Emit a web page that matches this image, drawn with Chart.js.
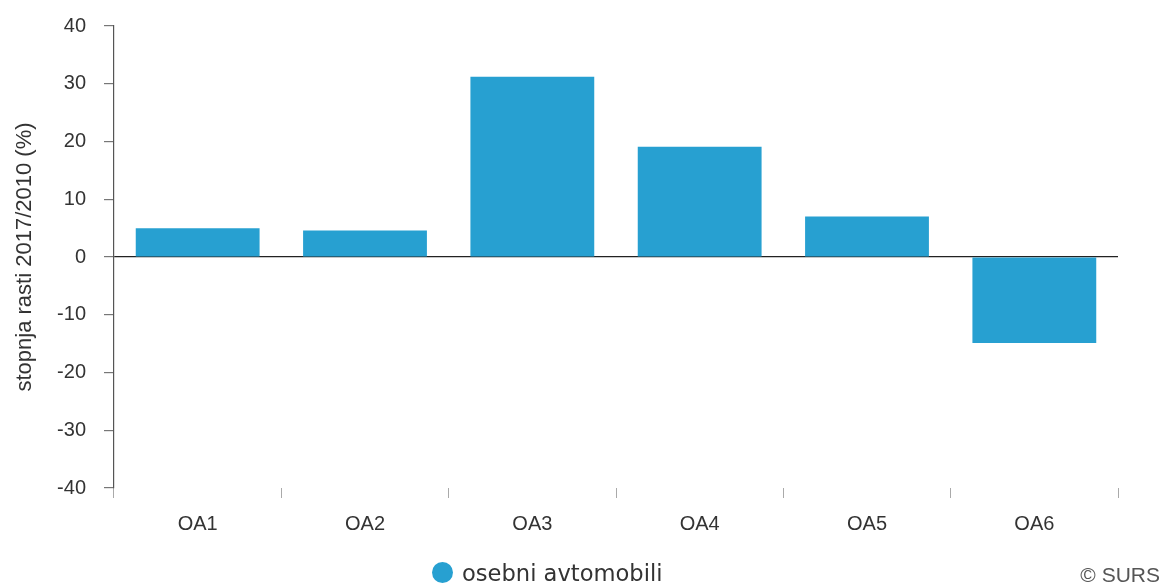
<!DOCTYPE html>
<html>
<head>
<meta charset="utf-8">
<script src="https://cdn.jsdelivr.net/npm/chart.js@4.4.1/dist/chart.umd.min.js"></script>
<style>
html,body{margin:0;padding:0;background:#fff;}
#wrap{position:relative;width:1163px;height:586px;overflow:hidden;}
#chart{position:absolute;left:0;top:-4px;}
#legend{position:absolute;left:432px;top:559px;height:27px;display:flex;align-items:center;font-family:"DejaVu Sans",sans-serif;font-size:22.6px;color:#333;white-space:nowrap;}
#legend .dot{display:inline-block;width:21px;height:21px;border-radius:50%;margin-right:9px;}
#credit{position:absolute;right:3px;top:563px;font-family:"Liberation Sans",Arial,sans-serif;font-size:21px;color:#555;white-space:nowrap;}
</style>
</head>
<body>
<div id="wrap">
  <canvas id="chart" width="1163" height="590"></canvas>
  <div id="legend"></div>
  <div id="credit">© SURS</div>
</div>
<script>
const categories = ['OA1', 'OA2', 'OA3', 'OA4', 'OA5', 'OA6'];
const growthValues = [5.0, 4.6, 31.2, 19.1, 7.0, -14.9];
const seriesName = 'osebni avtomobili';
const yAxisTitle = 'stopnja rasti 2017/2010 (%)';
const yMin = -40;
const yMax = 40;
const yStep = 10;

const barColor = '#27a0d1';
const tickFont = { family: '"Liberation Sans", Arial, sans-serif', size: 20 };

// HTML legend built from the series name
const legend = document.getElementById('legend');
const dot = document.createElement('span');
dot.className = 'dot';
dot.style.background = barColor;
legend.appendChild(dot);
legend.appendChild(document.createTextNode(seriesName));

const padLeft = 8;
new Chart(document.getElementById('chart'), {
  type: 'bar',
  data: {
    labels: categories,
    datasets: [{
      label: seriesName,
      data: growthValues,
      backgroundColor: barColor,
      borderWidth: 0,
      categoryPercentage: 1.0,
      barPercentage: 0.74
    }]
  },
  options: {
    responsive: false,
    animation: false,
    layout: { padding: { left: padLeft, right: 45, top: 21, bottom: 50 } },
    plugins: { legend: { display: false }, tooltip: { enabled: false } },
    scales: {
      x: {
        grid: { offset: true, drawOnChartArea: false, drawTicks: true, tickLength: 10, color: '#aaa', tickColor: '#aaa' },
        border: { display: false },
        ticks: { font: tickFont, color: '#333', padding: 14 },
        afterFit(s) { s.height = 48; }
      },
      y: {
        min: yMin,
        max: yMax,
        ticks: { stepSize: yStep, font: tickFont, color: '#333', padding: 18 },
        grid: {
          color: (ctx) => (ctx.tick && ctx.tick.value === 0) ? '#222' : 'rgba(0,0,0,0)',
          tickColor: '#777',
          tickLength: 10,
          lineWidth: 1.2
        },
        border: { display: true, color: '#555', width: 1.2 },
        title: { display: true, text: yAxisTitle, font: { family: '"Liberation Sans", Arial, sans-serif', size: 22 }, color: '#333', padding: { top: 4, bottom: 0 } },
        afterFit(s) { s.width = 114 - padLeft; }
      }
    }
  }
});
</script>
</body>
</html>
